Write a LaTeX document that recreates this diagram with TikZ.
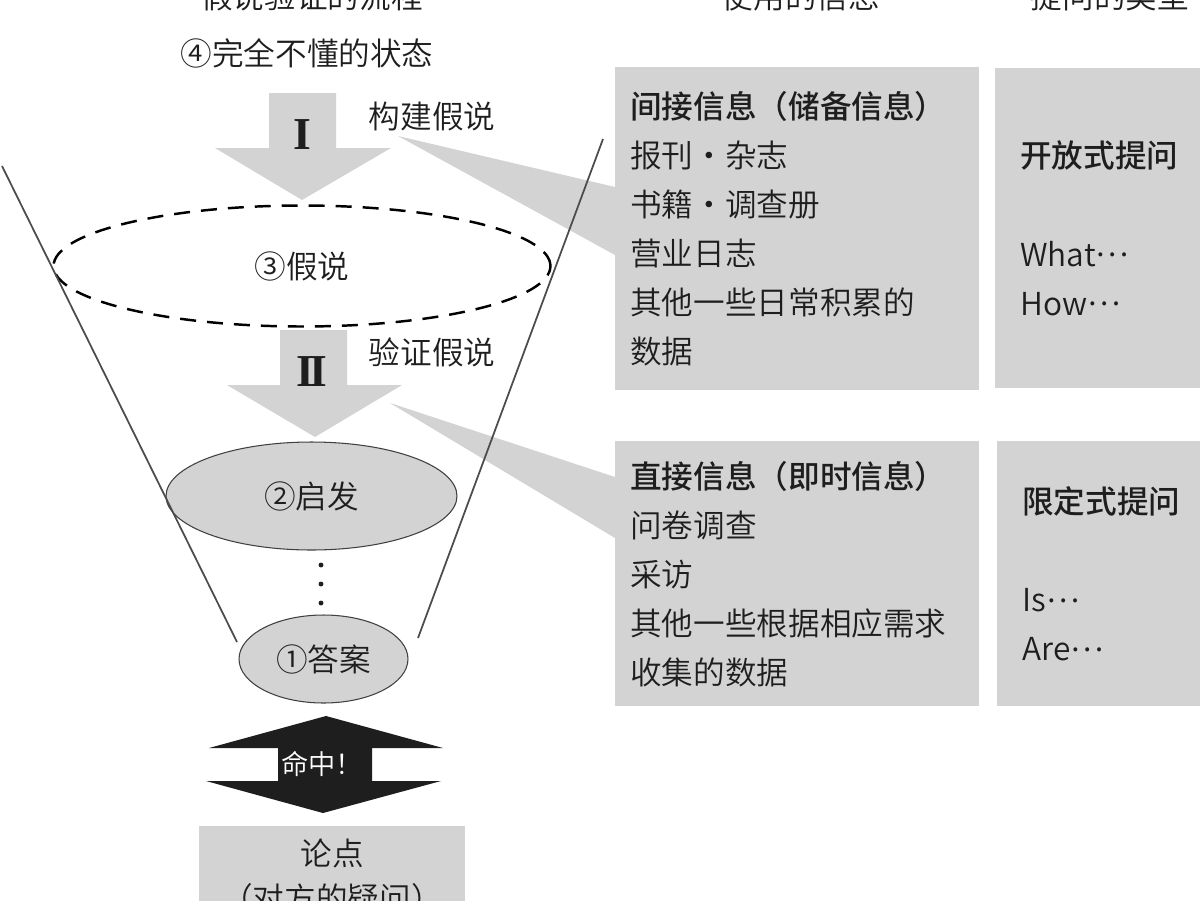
\documentclass[tikz,border=0pt]{standalone}
\usepackage{fontspec}
\newfontfamily\cjk{Noto Sans CJK SC}[UprightFont={* DemiLight}, BoldFont={* Medium}]
\newfontfamily\romannum{Liberation Serif}
\usepackage{tikz}
\usetikzlibrary{shapes.geometric}
\newcommand{\middots}{\raisebox{0.3em}{…}}
\definecolor{boxgray}{RGB}{211,211,211}
\definecolor{inkgray}{RGB}{30,30,30}
\tikzstyle{heading} = [font=\cjk\fontsize{18}{22}\selectfont, text=inkgray]
\tikzstyle{plain} = [font=\cjk\fontsize{18}{22}\selectfont, text=inkgray, inner sep=0pt]
\tikzstyle{numeral} = [font=\romannum\bfseries\fontsize{26}{26}\selectfont, text=inkgray]
\tikzstyle{infobox} = [rectangle, anchor=north west, fill=boxgray, inner xsep=0.3cm, inner ysep=0pt, align=left, text=inkgray, font=\cjk\fontsize{18}{27.9}\selectfont]
\tikzstyle{askbox} = [infobox, inner xsep=0.5cm, text width=4.1cm]
\tikzstyle{dashedoval} = [ellipse, draw=black, line width=1.4pt, dash pattern=on 0.32cm off 0.22cm, minimum width=9.94cm, minimum height=2.42cm, text=inkgray, font=\cjk\fontsize{18}{22}\selectfont]
\tikzstyle{greyoval} = [ellipse, draw=black!75, line width=0.6pt, fill=boxgray, text=inkgray, font=\cjk\fontsize{18}{22}\selectfont]
\tikzstyle{funnel} = [draw=black!70, line width=1pt]
\tikzstyle{hitlabel} = [font=\cjk\fontsize{15.5}{18}\selectfont, text=white]
\tikzstyle{issuebox} = [rectangle, anchor=north, fill=boxgray, minimum width=5.32cm, inner ysep=0.25cm, align=center, text=inkgray, font=\cjk\fontsize{18}{25.6}\selectfont]

\begin{document}
\begin{tikzpicture}[x=0.02cm, y=-0.02cm]
        \useasboundingbox (0,0) rectangle (1200,900);

        % callout wedges behind the boxes
        \fill [boxgray] (398,136) -- (615,187) -- (615,255) -- cycle;
        \fill [boxgray] (390,403) -- (615,477) -- (615,538) -- cycle;

        \node (flowtitle) [heading] at (312,-4) {假说验证的流程};
        \node (infotitle) [heading] at (801,-4) {使用的信息};
        \node (asktitle) [heading] at (1110,-4) {提问的类型};

        \node (indirect) [infobox, text width=6.68cm, minimum height=6.46cm] at (615,67) {\textbf{间接信息（储备信息）}\\报刊・杂志\\书籍・调查册\\营业日志\\其他一些日常积累的\\数据};
        \node (openask) [askbox, minimum height=6.4cm] at (995,68) {\textbf{开放式提问}\\[27.9pt]What\middots\\How\middots};
        \node (direct) [infobox, text width=6.68cm, minimum height=5.3cm] at (615,441) {\textbf{直接信息（即时信息）}\\问卷调查\\采访\\其他一些根据相应需求\\收集的数据};
        \node (closedask) [askbox, minimum height=5.3cm] at (997,441) {\textbf{限定式提问}\\[27.9pt]Is\middots\\Are\middots};

        \node (unknown) [plain] at (307,53) {④完全不懂的状态};

        % step arrows
        \fill [boxgray] (269,93) -- (336,93) -- (336,148) -- (391,148) -- (302,200) -- (215,148) -- (269,148) -- cycle;
        \fill [boxgray] (280,330) -- (347,330) -- (347,385) -- (402,385) -- (315,437) -- (227,385) -- (280,385) -- cycle;
        \node (stepone) [numeral] at (302,135) {I};
        \node (steptwo) [numeral] at (312,372) {I\kern-2.5pt I};
        \node (build) [plain] at (432,116) {构建假说};
        \node (verify) [plain] at (432,352) {验证假说};

        \node (hypo) [dashedoval] at (302,266) {③假说};
        \node (hint) [greyoval, minimum width=5.82cm, minimum height=2.16cm] at (311.5,496) {②启发};
        \node (answer) [greyoval, minimum width=3.38cm, minimum height=1.76cm] at (323.5,659) {①答案};
        \foreach \y in {565,584,603}
            \fill [inkgray] (321,\y) circle (1.4pt);

        % funnel
        \coordinate (ltop) at (2,166);
        \coordinate (lbot) at (237,642);
        \coordinate (rtop) at (603,139);
        \coordinate (rbot) at (418,638);
        \draw [funnel] (ltop) -- (lbot);
        \draw [funnel] (rtop) -- (rbot);

        % hit arrow
        \fill [inkgray] (326,716) -- (443,748) -- (372,748) -- (372,781) -- (441,781) -- (323,813) -- (206,781) -- (278,781) -- (278,748) -- (209,748) -- cycle;
        \node (hit) [hitlabel] at (322,764) {命中！};

        \node (issue) [issuebox] at (332,826) {论点\\（对方的疑问）};
      \end{tikzpicture}
\end{document}
